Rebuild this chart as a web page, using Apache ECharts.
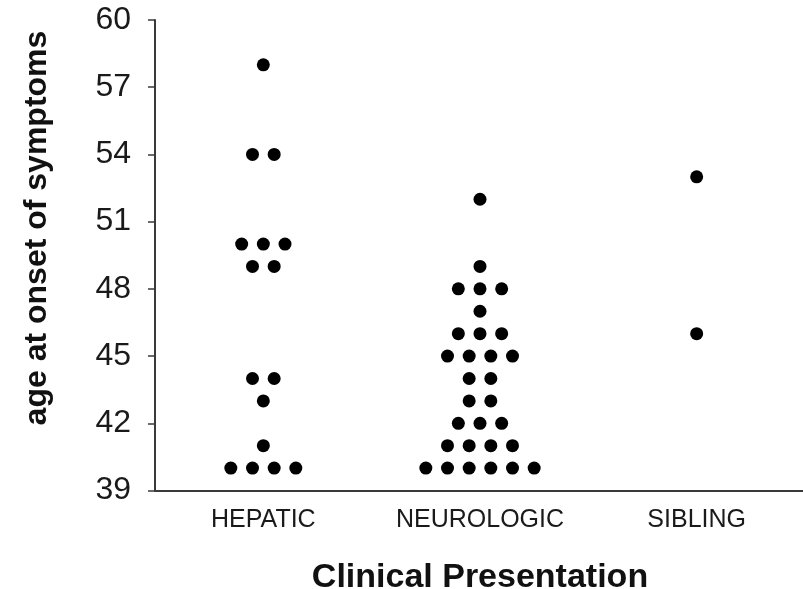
<!DOCTYPE html>
<html>
<head>
<meta charset="utf-8">
<script src="https://cdn.jsdelivr.net/npm/echarts@6/dist/echarts.min.js"></script>
<style>
html,body{margin:0;padding:0;background:#fff;}
#chart{width:803px;height:589px;}
</style>
</head>
<body>
<div id="chart"></div>
<script>
// ---- data ----
const categories = ['HEPATIC', 'NEUROLOGIC', 'SIBLING'];
const hepatic = [58, 54, 54, 50, 50, 50, 49, 49, 44, 44, 43, 41, 40, 40, 40, 40];
const neurologic = [52, 49, 48, 48, 48, 47, 46, 46, 46, 45, 45, 45, 45, 44, 44, 43, 43,
                    42, 42, 42, 41, 41, 41, 41, 40, 40, 40, 40, 40, 40];
const sibling = [53, 46];
const yMin = 39, yMax = 60, yStep = 3;
const xTitle = 'Clinical Presentation';
const yTitle = 'age at onset of symptoms';

// ---- dot-plot layout: identical values are spread side by side ----
const groups = [hepatic, neurologic, sibling];
const slot = 0.1; // horizontal spacing of stacked dots, in category units
const points = [];
groups.forEach(function (vals, ci) {
  const counts = {};
  vals.forEach(function (v) { counts[v] = (counts[v] || 0) + 1; });
  Object.keys(counts).forEach(function (k) {
    const n = counts[k];
    for (let i = 0; i < n; i++) {
      points.push([ci + (i - (n - 1) / 2) * slot, Number(k)]);
    }
  });
});

const FONT = '"Liberation Sans", Arial, Helvetica, sans-serif';
const chart = echarts.init(document.getElementById('chart'), null, {renderer: 'canvas'});
chart.setOption({
  backgroundColor: '#ffffff',
  animation: false,
  grid: {left: 155, right: -2, top: 20, bottom: 98.5, containLabel: false, outerBoundsMode: 'none'},
  xAxis: [{
    type: 'category',
    data: categories,
    boundaryGap: true,
    axisLine: {show: true, onZero: false, lineStyle: {color: '#3a3a3a', width: 2}},
    axisTick: {show: false},
    axisLabel: {color: '#1a1a1a', fontFamily: FONT, fontSize: 25, margin: 17, interval: 0, hideOverlap: false},
    splitLine: {show: false},
    name: xTitle,
    nameLocation: 'middle',
    nameGap: 70,
    nameTextStyle: {color: '#111', fontFamily: FONT, fontSize: 34, fontWeight: 'bold'}
  }, {
    type: 'value',
    min: -0.5,
    max: 2.5,
    show: false
  }],
  yAxis: {
    type: 'value',
    min: yMin,
    max: yMax,
    interval: yStep,
    axisLine: {show: true, onZero: false, lineStyle: {color: '#3a3a3a', width: 2}},
    axisTick: {show: true, inside: false, length: 7, lineStyle: {color: '#3a3a3a', width: 1.5}},
    axisLabel: {color: '#1a1a1a', fontFamily: FONT, fontSize: 32, margin: 24},
    splitLine: {show: false}
  },
  graphic: [{
    type: 'text',
    x: 37,
    y: 228,
    rotation: Math.PI / 2,
    style: {
      text: yTitle,
      fill: '#111',
      font: 'bold 32px ' + FONT,
      textAlign: 'center',
      textVerticalAlign: 'middle'
    }
  }],
  series: [{
    type: 'scatter',
    xAxisIndex: 1,
    yAxisIndex: 0,
    symbol: 'circle',
    symbolSize: 13,
    itemStyle: {color: '#000000', opacity: 1},
    data: points
  }]
});
</script>
</body>
</html>
